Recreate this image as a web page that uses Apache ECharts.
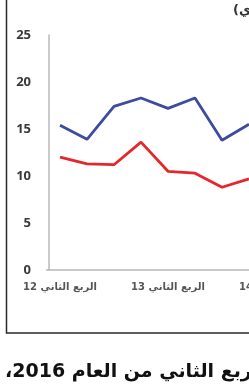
<!DOCTYPE html>
<html>
<head>
<meta charset="utf-8">
<script src="https://cdn.jsdelivr.net/npm/echarts@6/dist/echarts.min.js"></script>
<style>
  html, body { margin: 0; padding: 0; background: #fff; overflow: hidden; }
  #main { position: absolute; left: 0; top: 0; width: 330px; height: 385px; }
</style>
</head>
<body>
<div id="main"></div>
<script>
// الأرباع (يظهر كل رابع عنوان فقط)
var quarters = [
  "الربع الثاني 12", "الربع الثالث 12", "الربع الرابع 12", "الربع الأول 13",
  "الربع الثاني 13", "الربع الثالث 13", "الربع الرابع 13", "الربع الأول 14",
  "الربع الثاني 14"
];
var blueSeries = [15.4, 13.9, 17.4, 18.3, 17.2, 18.3, 13.8, 15.5, null];
var redSeries = [12.0, 11.3, 11.2, 13.6, 10.5, 10.3, 8.8, 9.7, null];
var yTicks = [0, 5, 10, 15, 20, 25];

var unitText = "\u202B(نسبة مئوية، على أساس سنوي)\u202C";
var captionText = "\u202Bفي الربع الثاني من العام 2016،\u202C";

var chart = echarts.init(document.getElementById("main"));
chart.setOption({
  animation: false,
  backgroundColor: "#fff",
  grid: { left: 46.5, top: 35, width: 243, height: 235 },
  xAxis: {
    type: "category",
    data: quarters,
    boundaryGap: true,
    axisLine: { lineStyle: { color: "#b8b8b8", width: 1.5 } },
    axisTick: { show: false },
    axisLabel: {
      interval: 3,
      margin: 12,
      color: "#555",
      fontSize: 10,
      fontFamily: "DejaVu Sans",
      fontWeight: "bold"
    },
    splitLine: { show: false }
  },
  yAxis: {
    type: "value",
    min: yTicks[0],
    max: yTicks[yTicks.length - 1],
    interval: 5,
    offset: -2.5,
    axisLine: { show: true, lineStyle: { color: "#b8b8b8", width: 1.5 } },
    axisTick: { show: false },
    axisLabel: {
      margin: 18,
      color: "#3a3a3a",
      fontSize: 13,
      fontWeight: "bold",
      fontFamily: "Open Sans"
    },
    splitLine: { show: false }
  },
  series: [
    {
      type: "line",
      data: blueSeries,
      symbol: "none",
      lineStyle: { color: "#3d4c9e", width: 2.8 }
    },
    {
      type: "line",
      data: redSeries,
      symbol: "none",
      lineStyle: { color: "#e5262b", width: 2.8 }
    }
  ],
  graphic: [
    {
      type: "rect",
      shape: { x: 6.5, y: -10, width: 400, height: 343 },
      style: { fill: "none", stroke: "#2a2a2a", lineWidth: 1.5 }
    },
    {
      type: "text",
      left: 233,
      top: 4,
      style: {
        text: unitText,
        fill: "#333",
        font: "bold 13px 'DejaVu Sans'"
      }
    },
    {
      type: "text",
      left: 5,
      top: 363,
      style: {
        text: captionText,
        fill: "#111",
        font: "bold 19px 'DejaVu Sans'"
      }
    }
  ]
});
</script>
</body>
</html>
